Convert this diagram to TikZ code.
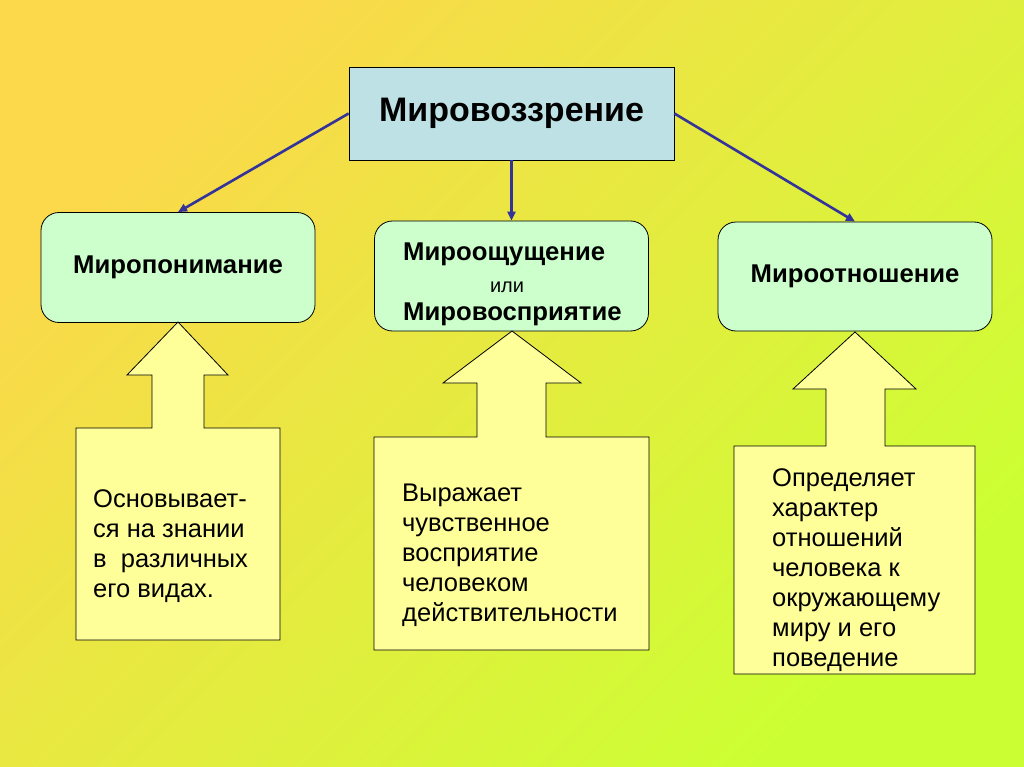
\documentclass[tikz,border=0pt]{standalone}
\usepackage{fontspec}
\setmainfont{Liberation Sans}
\usetikzlibrary{arrows.meta,positioning}

\definecolor{bgtl}{RGB}{252,216,75}
\definecolor{bgbr}{RGB}{204,255,51}
\definecolor{topfill}{RGB}{190,225,230}
\definecolor{boxfill}{RGB}{204,255,204}
\definecolor{calloutfill}{RGB}{255,255,153}
\definecolor{linkblue}{RGB}{51,51,153}

\begin{document}
\begin{tikzpicture}[
		x=1pt,y=-1pt,
		>={Triangle[length=9pt,width=8pt]},
		topbox/.style={draw=black, line width=0.8pt, fill=topfill,
			font=\fontsize{34}{37}\selectfont\bfseries},
		kindbox/.style={draw=black, line width=0.8pt, fill=boxfill,
			rounded corners=18pt, minimum width=274pt, minimum height=110pt,
			font=\fontsize{25.7}{28}\selectfont\bfseries},
		kindtext/.style={inner sep=0pt, font=\fontsize{25.7}{28}\selectfont\bfseries},
		calloutshape/.style={draw=black, line width=0.8pt, fill=calloutfill},
		callouttext/.style={inner sep=0pt, align=left, anchor=north west,
			font=\fontsize{25.5}{30}\selectfont},
		link/.style={->, draw=linkblue, line width=2.6pt}
		]
		
		% =========================
		% Background
		% =========================
		\shade[top color=bgtl, bottom color=bgbr, shading angle=45]
		(0,0) rectangle (1024,767);
		\useasboundingbox (0,0) rectangle (1024,767);
		
		% =========================
		% Top: worldview
		% =========================
		\node[topbox, minimum width=325pt, minimum height=93pt] (view) at (511.5,113.5) {Мировоззрение};
		
		% =========================
		% Middle row: three components
		% =========================
		\node[kindbox] (underst) at (178,267.5) {Миропонимание};
		\node[kindbox, minimum height=110pt] (feel) at (511.5,276) {};
		\node[kindbox, minimum height=109pt] (relat) at (855,276.5) {Мироотношение};
		
		\node[kindtext, anchor=base west] (feelA) at (403,260) {Мироощущение};
		\node[inner sep=0pt, anchor=base, font=\fontsize{20}{22}\selectfont] (feelor) at (507,292) {или};
		\node[kindtext, anchor=base west] (feelB) at (403,320) {Мировосприятие};
		
		% links from the top box
		\draw[link] (view.west) -- (underst.north);
		\draw[link] (view.south) -- (feel.north);
		\draw[link] (view.east) -- (relat.north);
		
		% =========================
		% Bottom row: up arrow callouts
		% =========================
		\draw[calloutshape] (178,322) -- (228,375) -- (204,375) -- (204,428) -- (280,428)
		-- (280,640) -- (76,640) -- (76,428) -- (152,428) -- (152,375) -- (127,375) -- cycle;
		\draw[calloutshape] (512,331) -- (581,383) -- (546,383) -- (546,437) -- (649,437)
		-- (649,650) -- (374,650) -- (374,437) -- (477,437) -- (477,383) -- (443,383) -- cycle;
		\draw[calloutshape] (855,332) -- (916,389) -- (885,389) -- (885,446) -- (975,446)
		-- (975,674) -- (734,674) -- (734,446) -- (826,446) -- (826,389) -- (793,389) -- cycle;
		
		\node[callouttext] (basis) at (93,489) {Основывает-\\ся на знании\\в \ различных\\его видах.};
		\node[callouttext] (express) at (402,484) {Выражает\\чувственное\\восприятие\\человеком\\действительности};
		\node[callouttext] (defines) at (772,468.5) {Определяет\\характер\\отношений\\человека к\\окружающему\\миру и его\\поведение};
		
	\end{tikzpicture}
\end{document}
